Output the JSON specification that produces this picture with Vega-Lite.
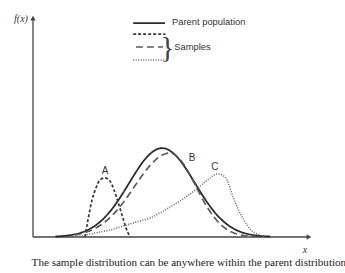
{
  "$schema": "https://vega.github.io/schema/vega-lite/v6.json",
  "width": 279,
  "height": 222,
  "autosize": {"type": "none"},
  "padding": {"left": 33, "top": 15, "right": 33, "bottom": 36},
  "background": "white",
  "config": {"view": {"stroke": null}},
  "datasets": {
    "curves": [
      {"s": "Parent", "p": "curve", "x": 0.8, "y": 0.0021},
      {"s": "Parent", "p": "curve", "x": 1.0, "y": 0.0036},
      {"s": "Parent", "p": "curve", "x": 1.25, "y": 0.0067},
      {"s": "Parent", "p": "curve", "x": 1.5, "y": 0.012},
      {"s": "Parent", "p": "curve", "x": 1.75, "y": 0.0206},
      {"s": "Parent", "p": "curve", "x": 2.0, "y": 0.0338},
      {"s": "Parent", "p": "curve", "x": 2.25, "y": 0.0528},
      {"s": "Parent", "p": "curve", "x": 2.5, "y": 0.0792},
      {"s": "Parent", "p": "curve", "x": 2.75, "y": 0.1134},
      {"s": "Parent", "p": "curve", "x": 3.0, "y": 0.155},
      {"s": "Parent", "p": "curve", "x": 3.25, "y": 0.203},
      {"s": "Parent", "p": "curve", "x": 3.5, "y": 0.254},
      {"s": "Parent", "p": "curve", "x": 3.75, "y": 0.304},
      {"s": "Parent", "p": "curve", "x": 4.0, "y": 0.348},
      {"s": "Parent", "p": "curve", "x": 4.25, "y": 0.38},
      {"s": "Parent", "p": "curve", "x": 4.5, "y": 0.398},
      {"s": "Parent", "p": "curve", "x": 4.624, "y": 0.4},
      {"s": "Parent", "p": "curve", "x": 4.75, "y": 0.398},
      {"s": "Parent", "p": "curve", "x": 5.0, "y": 0.38},
      {"s": "Parent", "p": "curve", "x": 5.25, "y": 0.348},
      {"s": "Parent", "p": "curve", "x": 5.5, "y": 0.304},
      {"s": "Parent", "p": "curve", "x": 5.75, "y": 0.254},
      {"s": "Parent", "p": "curve", "x": 6.0, "y": 0.203},
      {"s": "Parent", "p": "curve", "x": 6.25, "y": 0.155},
      {"s": "Parent", "p": "curve", "x": 6.5, "y": 0.113},
      {"s": "Parent", "p": "curve", "x": 6.75, "y": 0.079},
      {"s": "Parent", "p": "curve", "x": 7.0, "y": 0.0527},
      {"s": "Parent", "p": "curve", "x": 7.25, "y": 0.0336},
      {"s": "Parent", "p": "curve", "x": 7.5, "y": 0.0205},
      {"s": "Parent", "p": "curve", "x": 7.75, "y": 0.012},
      {"s": "Parent", "p": "curve", "x": 8.0, "y": 0.0067},
      {"s": "Parent", "p": "curve", "x": 8.25, "y": 0.0036},
      {"s": "Parent", "p": "curve", "x": 8.5, "y": 0.0021},

      {"s": "A", "p": "curve", "x": 1.864, "y": 0.0},
      {"s": "A", "p": "curve", "x": 1.971, "y": 0.077},
      {"s": "A", "p": "curve", "x": 2.115, "y": 0.167},
      {"s": "A", "p": "curve", "x": 2.258, "y": 0.221},
      {"s": "A", "p": "curve", "x": 2.401, "y": 0.257},
      {"s": "A", "p": "curve", "x": 2.581, "y": 0.266},
      {"s": "A", "p": "curve", "x": 2.76, "y": 0.252},
      {"s": "A", "p": "curve", "x": 2.903, "y": 0.212},
      {"s": "A", "p": "curve", "x": 3.047, "y": 0.158},
      {"s": "A", "p": "curve", "x": 3.19, "y": 0.099},
      {"s": "A", "p": "curve", "x": 3.333, "y": 0.041},
      {"s": "A", "p": "curve", "x": 3.477, "y": 0.0},

      {"s": "B", "p": "curve", "x": 1.5, "y": 0.0093},
      {"s": "B", "p": "curve", "x": 1.75, "y": 0.0158},
      {"s": "B", "p": "curve", "x": 2.0, "y": 0.0256},
      {"s": "B", "p": "curve", "x": 2.25, "y": 0.04},
      {"s": "B", "p": "curve", "x": 2.5, "y": 0.0598},
      {"s": "B", "p": "curve", "x": 2.75, "y": 0.0861},
      {"s": "B", "p": "curve", "x": 3.0, "y": 0.119},
      {"s": "B", "p": "curve", "x": 3.25, "y": 0.158},
      {"s": "B", "p": "curve", "x": 3.5, "y": 0.202},
      {"s": "B", "p": "curve", "x": 3.75, "y": 0.248},
      {"s": "B", "p": "curve", "x": 4.0, "y": 0.292},
      {"s": "B", "p": "curve", "x": 4.25, "y": 0.33},
      {"s": "B", "p": "curve", "x": 4.5, "y": 0.359},
      {"s": "B", "p": "curve", "x": 4.75, "y": 0.375},
      {"s": "B", "p": "curve", "x": 4.9, "y": 0.378},
      {"s": "B", "p": "curve", "x": 5.0, "y": 0.376},
      {"s": "B", "p": "curve", "x": 5.25, "y": 0.352},
      {"s": "B", "p": "curve", "x": 5.5, "y": 0.308},
      {"s": "B", "p": "curve", "x": 5.75, "y": 0.25},
      {"s": "B", "p": "curve", "x": 6.0, "y": 0.189},
      {"s": "B", "p": "curve", "x": 6.25, "y": 0.133},
      {"s": "B", "p": "curve", "x": 6.5, "y": 0.0875},
      {"s": "B", "p": "curve", "x": 6.75, "y": 0.0535},
      {"s": "B", "p": "curve", "x": 7.0, "y": 0.0304},
      {"s": "B", "p": "curve", "x": 7.25, "y": 0.0161},
      {"s": "B", "p": "curve", "x": 7.5, "y": 0.0079},
      {"s": "B", "p": "curve", "x": 7.75, "y": 0.0036},
      {"s": "B", "p": "curve", "x": 8.0, "y": 0.0015},

      {"s": "C", "p": "curve", "x": 1.398, "y": 0.0},
      {"s": "C", "p": "curve", "x": 1.685, "y": 0.0045},
      {"s": "C", "p": "curve", "x": 2.043, "y": 0.0135},
      {"s": "C", "p": "curve", "x": 2.401, "y": 0.0225},
      {"s": "C", "p": "curve", "x": 2.76, "y": 0.0315},
      {"s": "C", "p": "curve", "x": 3.118, "y": 0.045},
      {"s": "C", "p": "curve", "x": 3.477, "y": 0.0586},
      {"s": "C", "p": "curve", "x": 3.835, "y": 0.0721},
      {"s": "C", "p": "curve", "x": 4.194, "y": 0.0856},
      {"s": "C", "p": "curve", "x": 4.552, "y": 0.1081},
      {"s": "C", "p": "curve", "x": 4.91, "y": 0.1351},
      {"s": "C", "p": "curve", "x": 5.269, "y": 0.1622},
      {"s": "C", "p": "curve", "x": 5.627, "y": 0.1937},
      {"s": "C", "p": "curve", "x": 5.914, "y": 0.2207},
      {"s": "C", "p": "curve", "x": 6.165, "y": 0.2477},
      {"s": "C", "p": "curve", "x": 6.344, "y": 0.2658},
      {"s": "C", "p": "curve", "x": 6.487, "y": 0.2793},
      {"s": "C", "p": "curve", "x": 6.631, "y": 0.2838},
      {"s": "C", "p": "curve", "x": 6.774, "y": 0.2793},
      {"s": "C", "p": "curve", "x": 6.953, "y": 0.2568},
      {"s": "C", "p": "curve", "x": 7.168, "y": 0.1802},
      {"s": "C", "p": "curve", "x": 7.419, "y": 0.1081},
      {"s": "C", "p": "curve", "x": 7.67, "y": 0.0541},
      {"s": "C", "p": "curve", "x": 7.849, "y": 0.027},
      {"s": "C", "p": "curve", "x": 8.029, "y": 0.0135},
      {"s": "C", "p": "curve", "x": 8.315, "y": 0.0},

      {"s": "Parent", "p": "legend", "x": 3.59, "y": 0.963},
      {"s": "Parent", "p": "legend", "x": 4.73, "y": 0.963},
      {"s": "A", "p": "legend", "x": 3.59, "y": 0.914},
      {"s": "A", "p": "legend", "x": 4.75, "y": 0.914},
      {"s": "B", "p": "legend", "x": 3.69, "y": 0.856},
      {"s": "B", "p": "legend", "x": 4.66, "y": 0.856},
      {"s": "C", "p": "legend", "x": 3.59, "y": 0.797},
      {"s": "C", "p": "legend", "x": 4.73, "y": 0.797}
    ],
    "texts": [
      {"k": "curveLabel", "t": "A", "x": 2.58, "y": 0.297},
      {"k": "curveLabel", "t": "B", "x": 5.7, "y": 0.356},
      {"k": "curveLabel", "t": "C", "x": 6.52, "y": 0.315},
      {"k": "legendText", "t": "Parent population", "x": 4.98, "y": 0.968},
      {"k": "legendText", "t": "Samples", "x": 5.06, "y": 0.856},
      {"k": "brace", "t": "}", "x": 4.82, "y": 0.853},
      {"k": "axisLabel", "t": "f(x)", "x": -0.43, "y": 0.982},
      {"k": "axisLabel", "t": "x", "x": 9.75, "y": -0.0586},
      {"k": "caption", "t": "The sample distribution can be anywhere within the parent distribution", "x": -0.05, "y": -0.117}
    ],
    "axes": [
      {"a": "x", "x": 0, "y": 0, "x2": 9.9, "y2": 0},
      {"a": "y", "x": 0, "y": 0, "x2": 0, "y2": 0.99}
    ],
    "arrows": [
      {"a": "x", "x": 9.89, "y": 0},
      {"a": "y", "x": 0, "y": 0.986}
    ]
  },
  "layer": [
    {
      "data": {"name": "axes"},
      "mark": {"type": "rule", "color": "#444", "strokeWidth": 1.3},
      "encoding": {
        "x": {"field": "x", "type": "quantitative", "scale": {"domain": [0, 10], "nice": false, "zero": false}, "axis": null},
        "y": {"field": "y", "type": "quantitative", "scale": {"domain": [0, 1], "nice": false, "zero": false}, "axis": null},
        "x2": {"field": "x2"},
        "y2": {"field": "y2"}
      }
    },
    {
      "data": {"name": "arrows"},
      "transform": [{"filter": "datum.a === 'x'"}],
      "mark": {"type": "point", "shape": "triangle-right", "filled": true, "size": 28, "color": "#444", "opacity": 1},
      "encoding": {
        "x": {"field": "x", "type": "quantitative"},
        "y": {"field": "y", "type": "quantitative"}
      }
    },
    {
      "data": {"name": "arrows"},
      "transform": [{"filter": "datum.a === 'y'"}],
      "mark": {"type": "point", "shape": "triangle-up", "filled": true, "size": 28, "color": "#444", "opacity": 1},
      "encoding": {
        "x": {"field": "x", "type": "quantitative"},
        "y": {"field": "y", "type": "quantitative"}
      }
    },
    {
      "data": {"name": "curves"},
      "mark": {"type": "line", "interpolate": "monotone"},
      "encoding": {
        "x": {"field": "x", "type": "quantitative"},
        "y": {"field": "y", "type": "quantitative"},
        "detail": {"field": "p"},
        "color": {"field": "s", "type": "nominal", "scale": {"domain": ["Parent", "A", "B", "C"], "range": ["#2a2a2a", "#3a3a3a", "#5a5a5a", "#6a6a6a"]}, "legend": null},
        "strokeDash": {"field": "s", "type": "nominal", "scale": {"domain": ["Parent", "A", "B", "C"], "range": [[1, 0], [3, 2], [7, 4], [1, 1.5]]}, "legend": null},
        "strokeWidth": {"field": "s", "type": "nominal", "scale": {"domain": ["Parent", "A", "B", "C"], "range": [1.8, 1.6, 1.2, 1.2]}, "legend": null}
      }
    },
    {
      "data": {"name": "texts"},
      "transform": [{"filter": "datum.k === 'curveLabel'"}],
      "mark": {"type": "text", "font": "Liberation Sans", "fontSize": 10, "fill": "#333", "align": "center", "baseline": "middle"},
      "encoding": {
        "x": {"field": "x", "type": "quantitative"},
        "y": {"field": "y", "type": "quantitative"},
        "text": {"field": "t"}
      }
    },
    {
      "data": {"name": "texts"},
      "transform": [{"filter": "datum.k === 'legendText'"}],
      "mark": {"type": "text", "font": "Liberation Sans", "fontSize": 9.4, "fill": "#333", "align": "left", "baseline": "middle"},
      "encoding": {
        "x": {"field": "x", "type": "quantitative"},
        "y": {"field": "y", "type": "quantitative"},
        "text": {"field": "t"}
      }
    },
    {
      "data": {"name": "texts"},
      "transform": [{"filter": "datum.k === 'brace'"}],
      "mark": {"type": "text", "font": "Liberation Serif", "fontSize": 30, "fontWeight": "normal", "fill": "#444", "align": "center", "baseline": "middle"},
      "encoding": {
        "x": {"field": "x", "type": "quantitative"},
        "y": {"field": "y", "type": "quantitative"},
        "text": {"field": "t"}
      }
    },
    {
      "data": {"name": "texts"},
      "transform": [{"filter": "datum.k === 'axisLabel'"}],
      "mark": {"type": "text", "font": "Liberation Serif", "fontSize": 10, "fontStyle": "italic", "fill": "#333", "align": "center", "baseline": "middle"},
      "encoding": {
        "x": {"field": "x", "type": "quantitative"},
        "y": {"field": "y", "type": "quantitative"},
        "text": {"field": "t"}
      }
    },
    {
      "data": {"name": "texts"},
      "transform": [{"filter": "datum.k === 'caption'"}],
      "mark": {"type": "text", "font": "Liberation Serif", "fontSize": 11.1, "fill": "#222", "align": "left", "baseline": "middle"},
      "encoding": {
        "x": {"field": "x", "type": "quantitative"},
        "y": {"field": "y", "type": "quantitative"},
        "text": {"field": "t"}
      }
    }
  ]
}
